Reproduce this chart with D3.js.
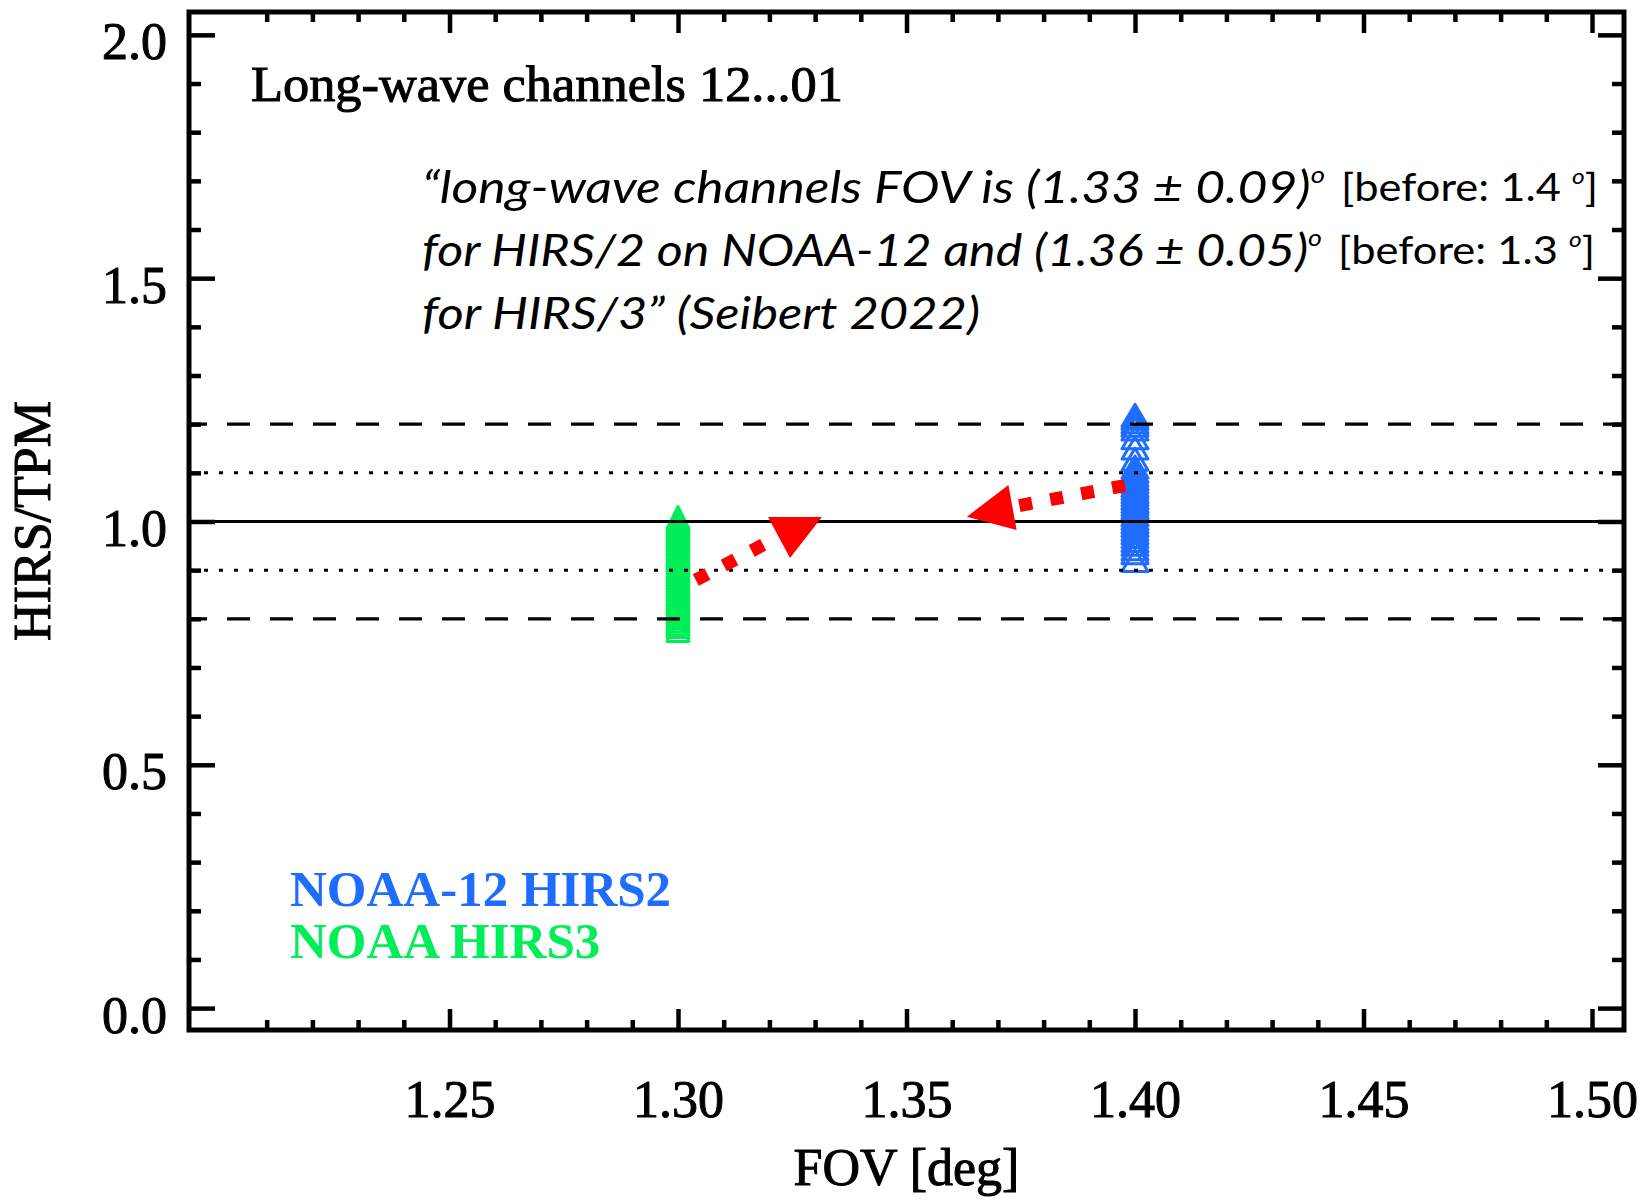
<!DOCTYPE html>
<html>
<head>
<meta charset="utf-8">
<script src="https://cdn.jsdelivr.net/npm/d3@7"></script>
<style>
  html, body { margin: 0; padding: 0; background: #ffffff; }
  svg { display: block; }
</style>
</head>
<body>
<svg id="chart" width="1643" height="1201"></svg>
<script>
// ---- data -------------------------------------------------------------
// HIRS / TPM ratio for the long-wave channels 12...01
const seriesNames = ["NOAA-12 HIRS2", "NOAA HIRS3"];
const seriesFov = [1.40, 1.30];            // FOV [deg] used for each instrument
const seriesColors = ["#1f6dff", "#00ee58"];

const hirs2Ratio = [1.218, 1.212, 1.205, 1.198, 1.190, 1.172, 1.151, 1.128, 1.112,
  1.103, 1.095, 1.088, 1.081, 1.074, 1.068, 1.061, 1.055, 1.048, 1.041, 1.035,
  1.028, 1.021, 1.014, 1.006, 0.999, 0.992, 0.984, 0.977, 0.969, 0.961, 0.953,
  0.944, 0.936, 0.920];

const hirs3Ratio = [1.008, 1.002, 0.996, 0.991, 0.985, 0.979, 0.973, 0.968, 0.962,
  0.956, 0.950, 0.944, 0.938, 0.932, 0.927, 0.921, 0.915, 0.909, 0.903, 0.897,
  0.891, 0.885, 0.879, 0.873, 0.867, 0.861, 0.855, 0.849, 0.843, 0.837, 0.831,
  0.825, 0.819, 0.813, 0.807, 0.801, 0.795, 0.789, 0.784, 0.776];

// reference levels of the ratio
const solidLevels = [1.0];
const dottedLevels = [0.9, 1.1];
const dashedLevels = [0.8, 1.2];

// axes
const xTickValues = [1.25, 1.30, 1.35, 1.40, 1.45, 1.50];
const xTickLabels = ["1.25", "1.30", "1.35", "1.40", "1.45", "1.50"];
const xMinorValues = [1.21, 1.22, 1.23, 1.24, 1.26, 1.27, 1.28, 1.29, 1.31, 1.32, 1.33,
  1.34, 1.36, 1.37, 1.38, 1.39, 1.41, 1.42, 1.43, 1.44, 1.46, 1.47, 1.48, 1.49];
const yTickValues = [0.0, 0.5, 1.0, 1.5, 2.0];
const yTickLabels = ["0.0", "0.5", "1.0", "1.5", "2.0"];
const yMinorValues = [0.1, 0.2, 0.3, 0.4, 0.6, 0.7, 0.8, 0.9, 1.1, 1.2, 1.3, 1.4,
  1.6, 1.7, 1.8, 1.9];
const xDomain = [1.193, 1.507];
const yDomain = [-0.045, 2.047];

// annotation arrows (FOV, ratio): old FOV -> new FOV
const arrowHirs3Shaft = [[1.3039, 0.8797], [1.3236, 0.9763]];
const arrowHirs3Head = [[1.3197, 1.0092], [1.3315, 1.0092], [1.3245, 0.9250]];
const arrowHirs2Shaft = [[1.3978, 1.0739], [1.3731, 1.0298]];
const arrowHirs2Head = [[1.3632, 1.0098], [1.3723, 1.0750], [1.3741, 0.9825]];

// text
const titleText = "Long-wave channels 12...01";
const quoteLines = ["“long-wave channels FOV is (1.33 ± 0.09)",
                    "for HIRS/2 on NOAA-12 and (1.36 ± 0.05)",
                    "for HIRS/3” (Seibert 2022)"];
const quoteDegree = [true, true, false];
const beforeNotes = ["[before: 1.4 ", "[before: 1.3 "];
const xTitle = "FOV [deg]";
const yTitle = "HIRS/TPM";

// ---- layout -----------------------------------------------------------
const svg = d3.select("#chart");
const plot = { left: 189, right: 1624, top: 12, bottom: 1030 };
const x = d3.scaleLinear().domain(xDomain).range([plot.left, plot.right]);
const y = d3.scaleLinear().domain(yDomain).range([plot.bottom, plot.top]);

const SERIF = "'Liberation Serif', 'Times New Roman', serif";
const SANS = "Lato, 'Open Sans', sans-serif";

// ---- markers: open triangles -----------------------------------------
const triangle = (w, h) => `M0,${-h / 2}L${w / 2},${h / 2}L${-w / 2},${h / 2}Z`;

function drawColumn(values, fov, color, w, h) {
  svg.append("g")
    .selectAll("path")
    .data(values)
    .join("path")
    .attr("d", triangle(w, h))
    .attr("transform", d => `translate(${x(fov)},${y(d)})`)
    .attr("fill", "none")
    .attr("stroke", color)
    .attr("stroke-width", 3)
    .attr("stroke-linejoin", "round");
}
drawColumn(hirs3Ratio, seriesFov[1], seriesColors[1], 22, 22);
drawColumn(hirs2Ratio, seriesFov[0], seriesColors[0], 26, 22);

// ---- reference lines --------------------------------------------------
const refG = svg.append("g");
refG.selectAll("line.solid").data(solidLevels).join("line")
  .attr("class", "solid")
  .attr("x1", plot.left).attr("x2", plot.right)
  .attr("y1", d => y(d)).attr("y2", d => y(d))
  .attr("stroke", "#000").attr("stroke-width", 3.2);
refG.selectAll("line.dotted").data(dottedLevels).join("line")
  .attr("class", "dotted")
  .attr("x1", plot.left).attr("x2", plot.right)
  .attr("y1", d => y(d)).attr("y2", d => y(d))
  .attr("stroke", "#000").attr("stroke-width", 3)
  .attr("stroke-dasharray", "4 11");
refG.selectAll("line.dashed").data(dashedLevels).join("line")
  .attr("class", "dashed")
  .attr("x1", plot.left).attr("x2", plot.right)
  .attr("y1", d => y(d)).attr("y2", d => y(d))
  .attr("stroke", "#000").attr("stroke-width", 3.2)
  .attr("stroke-dasharray", "23 20")
  .attr("stroke-dashoffset", 5);

// ---- axes -------------------------------------------------------------
function styleAxis(g) {
  g.select(".domain").remove();
  g.selectAll(".tick line").attr("stroke", "#000").attr("stroke-width", 4.5);
  g.selectAll("text")
    .attr("font-family", SERIF)
    .attr("font-size", 52)
    .attr("fill", "#000")
    .attr("stroke", "#000")
    .attr("stroke-width", 1);
}

// bottom
svg.append("g").attr("transform", `translate(0,${plot.bottom})`)
  .call(d3.axisBottom(x).tickValues(xMinorValues).tickSize(-10).tickFormat(""))
  .call(styleAxis);
svg.append("g").attr("transform", `translate(0,${plot.bottom})`)
  .call(d3.axisBottom(x).tickValues(xTickValues).tickSize(-21)
    .tickFormat((d, i) => xTickLabels[i]))
  .call(styleAxis)
  .call(g => g.selectAll("text").attr("y", 87).attr("dy", null));
// top
svg.append("g").attr("transform", `translate(0,${plot.top})`)
  .call(d3.axisTop(x).tickValues(xMinorValues).tickSize(-10).tickFormat(""))
  .call(styleAxis);
svg.append("g").attr("transform", `translate(0,${plot.top})`)
  .call(d3.axisTop(x).tickValues(xTickValues).tickSize(-21).tickFormat(""))
  .call(styleAxis);
// left
svg.append("g").attr("transform", `translate(${plot.left},0)`)
  .call(d3.axisLeft(y).tickValues(yMinorValues).tickSize(-12).tickFormat(""))
  .call(styleAxis);
svg.append("g").attr("transform", `translate(${plot.left},0)`)
  .call(d3.axisLeft(y).tickValues(yTickValues).tickSize(-26)
    .tickFormat((d, i) => yTickLabels[i]))
  .call(styleAxis)
  .call(g => g.selectAll("text").attr("x", -22).attr("y", 24).attr("dy", null));
// right
svg.append("g").attr("transform", `translate(${plot.right},0)`)
  .call(d3.axisRight(y).tickValues(yMinorValues).tickSize(-12).tickFormat(""))
  .call(styleAxis);
svg.append("g").attr("transform", `translate(${plot.right},0)`)
  .call(d3.axisRight(y).tickValues(yTickValues).tickSize(-26).tickFormat(""))
  .call(styleAxis);

// frame
svg.append("rect")
  .attr("x", plot.left).attr("y", plot.top)
  .attr("width", plot.right - plot.left).attr("height", plot.bottom - plot.top)
  .attr("fill", "none").attr("stroke", "#000").attr("stroke-width", 5);

// axis titles
svg.append("text")
  .attr("x", (plot.left + plot.right) / 2).attr("y", 1185)
  .attr("text-anchor", "middle")
  .attr("font-family", SERIF).attr("font-size", 52)
  .attr("stroke", "#000").attr("stroke-width", 1)
  .text(xTitle);
svg.append("text")
  .attr("transform", `translate(50,${(plot.top + plot.bottom) / 2}) rotate(-90)`)
  .attr("text-anchor", "middle")
  .attr("font-family", SERIF).attr("font-size", 52)
  .attr("stroke", "#000").attr("stroke-width", 1)
  .text(yTitle);

// ---- in-plot text -----------------------------------------------------
svg.append("text")
  .attr("x", 251).attr("y", 101)
  .attr("font-family", SERIF).attr("font-size", 50)
  .attr("stroke", "#000").attr("stroke-width", 1)
  .attr("textLength", 592).attr("lengthAdjust", "spacingAndGlyphs")
  .text(titleText);

const quoteBase = [203, 266, 329];
const quoteLen = [903, 900, 558];
quoteLines.forEach((line, i) => {
  const t = svg.append("text")
    .attr("x", 422).attr("y", quoteBase[i])
    .attr("font-family", SANS).attr("font-style", "italic")
    .attr("font-size", 45)
    .attr("textLength", quoteLen[i]).attr("lengthAdjust", "spacingAndGlyphs");
  t.append("tspan").text(line);
  if (quoteDegree[i]) {
    t.append("tspan").attr("font-size", 24).attr("dy", -20).text("o");
  }
});

const noteX = [1341, 1338];
const noteBase = [201, 264];
beforeNotes.forEach((note, i) => {
  const t = svg.append("text")
    .attr("x", noteX[i]).attr("y", noteBase[i])
    .attr("font-family", SANS).attr("font-size", 39)
    .attr("textLength", 257).attr("lengthAdjust", "spacingAndGlyphs");
  t.append("tspan").text(note);
  t.append("tspan").attr("font-size", 22).attr("font-style", "italic")
    .attr("dy", -17).text("o");
  t.append("tspan").attr("dy", 17).text("]");
});

// legend
const legendBase = [906, 958];
seriesNames.forEach((name, i) => {
  svg.append("text")
    .attr("x", 290).attr("y", legendBase[i])
    .attr("font-family", SERIF).attr("font-weight", "bold")
    .attr("font-size", 51)
    .attr("fill", seriesColors[i])
    .text(name);
});

// ---- arrows -----------------------------------------------------------
function drawArrow(shaft, head) {
  svg.append("line")
    .attr("x1", x(shaft[0][0])).attr("y1", y(shaft[0][1]))
    .attr("x2", x(shaft[1][0])).attr("y2", y(shaft[1][1]))
    .attr("stroke", "#ff0000").attr("stroke-width", 13)
    .attr("stroke-dasharray", "13 18.5");
  svg.append("polygon")
    .attr("points", head.map(p => `${x(p[0])},${y(p[1])}`).join(" "))
    .attr("fill", "#ff0000");
}
drawArrow(arrowHirs3Shaft, arrowHirs3Head);
drawArrow(arrowHirs2Shaft, arrowHirs2Head);
</script>
</body>
</html>
